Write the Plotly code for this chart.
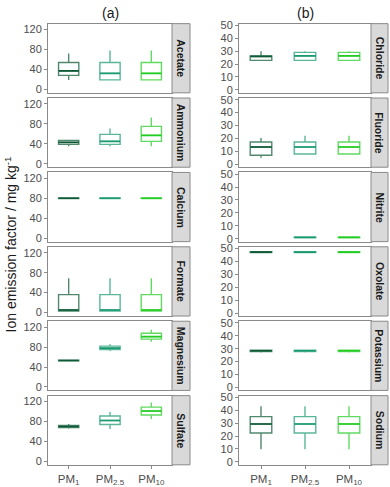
import plotly.graph_objects as go

# ---------------- data ----------------
categories = ["PM1", "PM2.5", "PM10"]
tick_text = ["PM<sub>1</sub>", "PM<sub>2.5</sub>", "PM<sub>10</sub>"]

ions_a = ["Acetate", "Ammonium", "Calcium", "Formate", "Magnesium", "Sulfate"]
ions_b = ["Chloride", "Fluoride", "Nitrite", "Oxolate", "Potassium", "Sodium"]

# five-number summaries per category: [lower whisker, q1, median, q3, upper whisker]
acetate   = [[19, 28, 37, 54, 72], [19, 19, 32, 54, 78], [19, 19, 32, 54, 78]]
ammonium  = [[35, 39, 43, 47, 47], [35, 39, 45, 59, 71], [35, 45, 57, 75, 93]]
calcium   = [[79.5, 79.5, 80, 80.8, 80.8], [79.5, 79.5, 80, 80.8, 80.8], [79.5, 79.5, 80, 80.8, 80.8]]
formate   = [[3, 3, 5, 36, 69], [3, 3, 5, 36, 69], [3, 3, 5, 36, 69]]
magnesium = [[52.5, 52.5, 53, 53.6, 53.6], [72, 75, 78, 82, 86], [91, 96, 101, 108, 115]]
sulfate   = [[66, 68, 70, 72, 75], [65, 74, 82, 91, 99], [85, 93, 101, 109, 118]]

chloride  = [[22.5, 22.8, 26, 26.3, 30], [22.8, 22.8, 26.3, 29, 30], [22.8, 22.8, 26.3, 29, 30]]
fluoride  = [[5, 7, 13.4, 17.2, 20.3], [8, 8, 13.4, 17.2, 22], [8, 8, 13.4, 17.2, 22]]
nitrite   = [[None] * 5, [0.8, 0.8, 1, 1.2, 1.2], [0.8, 0.8, 1, 1.2, 1.2]]
oxolate   = [[46.9, 46.9, 47.2, 47.5, 47.5], [46.9, 46.9, 47.2, 47.5, 47.5], [46.9, 46.9, 47.2, 47.5, 47.5]]
potassium = [[27, 27.8, 28.4, 28.9, 29.2], [27, 27.8, 28.4, 28.9, 29.2], [27, 27.8, 28.4, 28.9, 29.2]]
sodium    = [[9.7, 22.3, 29.3, 35, 43], [9.7, 22.3, 29.3, 35, 43], [9.7, 22.3, 29.3, 35, 43]]

data_a = [acetate, ammonium, calcium, formate, magnesium, sulfate]
data_b = [chloride, fluoride, nitrite, oxolate, potassium, sodium]

ticks_a = [0, 40, 80, 120]
ticks_b = [0, 10, 20, 30, 40, 50]
range_a = [-7, 132]
range_b = [-2.3, 51.3]

# ---------------- styling ----------------
W, H = 390, 487
median_colors = ["#0b5a35", "#1a9a70", "#22cc22"]
edge_colors = ["rgba(11,90,53,0.72)", "rgba(26,154,112,0.72)", "rgba(34,204,34,0.72)"]
FONT = "Liberation Sans, Arial, sans-serif"
BORDER = "#8a8a8a"

col_x = [(48, 172), (239, 371)]
strip_x = [(172, 190), (371, 388)]
row_top0, row_pitch, row_h = 20, 75.8, 70.5

fig = go.Figure()
layout = {}
shapes = []
annotations = []

def px_x(v):
    return v / W

def px_y(v):
    return 1 - v / H

idx = 0
for c, (ions, datas, ticks, rng) in enumerate([(ions_a, data_a, ticks_a, range_a),
                                               (ions_b, data_b, ticks_b, range_b)]):
    for r, (ion, stats) in enumerate(zip(ions, datas)):
        idx += 1
        xa = "x" if idx == 1 else f"x{idx}"
        ya = "y" if idx == 1 else f"y{idx}"
        top = row_top0 + r * row_pitch
        bottom = top + row_h
        bottom_row = (r == len(ions) - 1)
        for k, cat in enumerate(categories):
            lo, q1, md, q3, hi = stats[k]
            if md is None:
                continue
            fig.add_trace(go.Box(
                x=[cat], q1=[q1], median=[md], q3=[q3],
                lowerfence=[lo], upperfence=[hi],
                xaxis=xa, yaxis=ya,
                line=dict(color=edge_colors[k], width=1.4),
                fillcolor="white", whiskerwidth=0,
                boxpoints=False, showlegend=False, hoverinfo="skip",
            ))
            # solid median line on top
            fig.add_trace(go.Box(
                x=[cat], q1=[md], median=[md], q3=[md],
                lowerfence=[md], upperfence=[md],
                xaxis=xa, yaxis=ya,
                line=dict(color=median_colors[k], width=1.6),
                fillcolor="rgba(0,0,0,0)", whiskerwidth=0,
                boxpoints=False, showlegend=False, hoverinfo="skip",
            ))
        xkey = "xaxis" if idx == 1 else f"xaxis{idx}"
        ykey = "yaxis" if idx == 1 else f"yaxis{idx}"
        xdict = dict(
            domain=[px_x(col_x[c][0]), px_x(col_x[c][1])],
            anchor=ya, type="category",
            categoryorder="array", categoryarray=categories,
            range=[-0.5, 2.5],
            showline=True, linecolor=BORDER, linewidth=1, mirror=True,
            showgrid=False, zeroline=False, fixedrange=True,
        )
        if bottom_row:
            xdict.update(tickvals=categories, ticktext=tick_text, showticklabels=True,
                         ticks="outside", ticklen=3, tickcolor=BORDER,
                         tickfont=dict(family=FONT, size=11.5, color="#4d4d4d"))
        else:
            xdict.update(showticklabels=False, ticks="")
        layout[xkey] = xdict
        layout[ykey] = dict(
            domain=[px_y(bottom), px_y(top)],
            anchor=xa, range=rng, tickvals=ticks,
            ticks="outside", ticklen=3, tickcolor=BORDER,
            tickfont=dict(family=FONT, size=11, color="#4d4d4d"),
            showline=True, linecolor=BORDER, linewidth=1, mirror=True,
            showgrid=False, zeroline=False, fixedrange=True,
        )
        # facet strip
        sx0, sx1 = strip_x[c]
        shapes.append(dict(type="rect", xref="paper", yref="paper",
                           x0=px_x(sx0), x1=px_x(sx1), y0=px_y(bottom), y1=px_y(top),
                           fillcolor="#d9d9d9", line=dict(color=BORDER, width=1)))
        annotations.append(dict(xref="paper", yref="paper",
                                x=px_x((sx0 + sx1) / 2), y=px_y((top + bottom) / 2),
                                text=f"<b>{ion}</b>", textangle=90, showarrow=False,
                                xanchor="center", yanchor="middle",
                                font=dict(family=FONT, size=10.5, color="#1a1a1a")))

# column titles
annotations.append(dict(xref="paper", yref="paper", x=px_x(110), y=px_y(9),
                        text="(a)", showarrow=False, xanchor="center", yanchor="middle",
                        font=dict(family=FONT, size=14, color="#1a1a1a")))
annotations.append(dict(xref="paper", yref="paper", x=px_x(305), y=px_y(9),
                        text="(b)", showarrow=False, xanchor="center", yanchor="middle",
                        font=dict(family=FONT, size=14, color="#1a1a1a")))
# y axis title
annotations.append(dict(xref="paper", yref="paper", x=px_x(11), y=px_y(245),
                        text="Ion emission factor / mg kg<sup>-1</sup>", textangle=-90,
                        showarrow=False, xanchor="center", yanchor="middle",
                        font=dict(family=FONT, size=14, color="#1a1a1a")))

fig.update_layout(
    width=W, height=H,
    margin=dict(l=0, r=0, t=0, b=0),
    paper_bgcolor="white", plot_bgcolor="white",
    boxmode="overlay", boxgap=0.3,
    shapes=shapes, annotations=annotations,
    showlegend=False,
    **layout,
)

# remove the browser's default page margin so the 390x487 figure fills the window exactly
fig.write_html(
    "out.html",
    config={"displayModeBar": False},
    post_script="document.body.style.margin='0px';document.body.style.overflow='hidden';",
)
